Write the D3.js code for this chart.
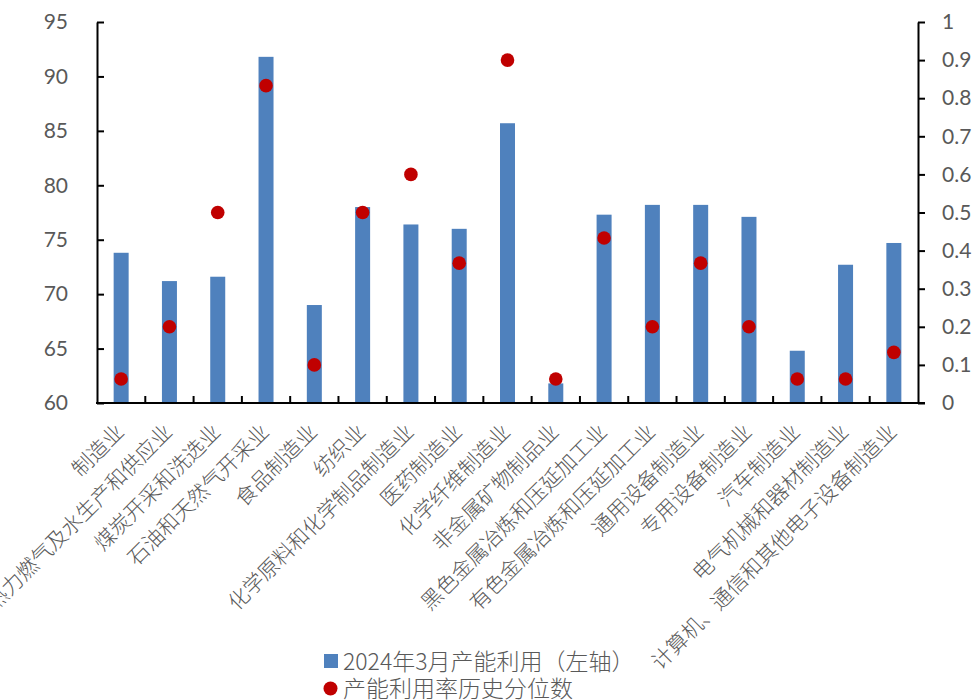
<!DOCTYPE html>
<html>
<head>
<meta charset="utf-8">
<script src="https://cdn.jsdelivr.net/npm/d3@7/dist/d3.min.js"></script>
<style>
  html, body { margin: 0; padding: 0; background: #fff; }
  svg { display: block; }
  .num { font-family: "Lato", "Liberation Sans", sans-serif; }
  .cjk { font-family: "Noto Sans CJK SC", "Lato", sans-serif; }
  .light { font-weight: 300; }
</style>
</head>
<body>
<svg id="chart" width="974" height="700"></svg>
<script>
// Industry categories
const categories = [
  "制造业",
  "电力热力燃气及水生产和供应业",
  "煤炭开采和洗选业",
  "石油和天然气开采业",
  "食品制造业",
  "纺织业",
  "化学原料和化学制品制造业",
  "医药制造业",
  "化学纤维制造业",
  "非金属矿物制品业",
  "黑色金属冶炼和压延加工业",
  "有色金属冶炼和压延加工业",
  "通用设备制造业",
  "专用设备制造业",
  "汽车制造业",
  "电气机械和器材制造业",
  "计算机、通信和其他电子设备制造业"
];

// Capacity utilisation, March 2024 (%), left axis
const utilization = [73.8, 71.2, 71.6, 91.8, 69.0, 78.0, 76.4, 76.0, 85.7, 61.8,
                     77.3, 78.2, 78.2, 77.1, 64.8, 72.7, 74.7];

// Historical percentile of the utilisation rate, right axis
const percentile = [0.063, 0.2, 0.5, 0.833, 0.1, 0.5, 0.6, 0.367, 0.9, 0.063,
                    0.433, 0.2, 0.367, 0.2, 0.063, 0.063, 0.133];

const leftTicks = [60, 65, 70, 75, 80, 85, 90, 95];
const rightTicks = [0, 0.1, 0.2, 0.3, 0.4, 0.5, 0.6, 0.7, 0.8, 0.9, 1];

const legendLabels = ["2024年3月产能利用（左轴）", "产能利用率历史分位数"];

const BAR = "#4f81bd", DOT = "#c00000", TXT = "#595959";

const svg = d3.select("#chart");
const plotL = 97, plotR = 918, plotT = 22, plotB = 403;

const x = d3.scaleBand().domain(categories).range([plotL, plotR]).padding(0);
const yL = d3.scaleLinear().domain([60, 95]).range([plotB, plotT]);
const yR = d3.scaleLinear().domain([0, 1]).range([plotB, plotT]);

// Bars
svg.append("g").selectAll("rect").data(categories).join("rect")
  .attr("x", (d) => x(d) + x.bandwidth() / 2 - 7.5)
  .attr("width", 15)
  .attr("y", (d, i) => yL(utilization[i]))
  .attr("height", (d, i) => yL(60) - yL(utilization[i]))
  .attr("fill", BAR);

// Percentile markers
svg.append("g").selectAll("circle").data(categories).join("circle")
  .attr("cx", (d) => x(d) + x.bandwidth() / 2)
  .attr("cy", (d, i) => yR(percentile[i]))
  .attr("r", 6.8)
  .attr("fill", DOT);

// Left axis (ticks point inward)
const gL = svg.append("g").attr("transform", `translate(${plotL},0)`)
  .call(d3.axisLeft(yL).tickValues(leftTicks).tickSizeInner(-7).tickSizeOuter(0).tickPadding(29));
gL.select(".domain").attr("stroke", "#000").attr("stroke-width", 2);
gL.selectAll(".tick line").attr("stroke", "#000").attr("stroke-width", 2);
gL.selectAll(".tick text").attr("class", "num").attr("fill", TXT).attr("font-size", 21);

// Right axis
const fmtR = (d) => (d === 0 ? "0" : d === 1 ? "1" : d.toFixed(1));
const gR = svg.append("g").attr("transform", `translate(${plotR},0)`)
  .call(d3.axisRight(yR).tickValues(rightTicks).tickFormat(fmtR).tickSizeInner(7).tickSizeOuter(0).tickPadding(17));
gR.select(".domain").attr("stroke", "#000").attr("stroke-width", 2);
gR.selectAll(".tick line").attr("stroke", "#000").attr("stroke-width", 2);
gR.selectAll(".tick text").attr("class", "num").attr("fill", TXT).attr("font-size", 21);

// Category axis: boundary ticks pointing up, rotated labels
const gB = svg.append("g").attr("transform", `translate(0,${plotB})`)
  .call(d3.axisBottom(x).tickSize(0).tickPadding(0));
gB.select(".domain").remove();
gB.append("line").attr("x1", plotL - 1).attr("x2", plotR + 7).attr("stroke", "#000").attr("stroke-width", 2);
gB.selectAll(".sep").data(categories.slice(1)).join("line")
  .attr("class", "sep")
  .attr("x1", (d) => x(d)).attr("x2", (d) => x(d))
  .attr("y1", 0).attr("y2", -7)
  .attr("stroke", "#000").attr("stroke-width", 2);
gB.selectAll(".tick text")
  .attr("class", "cjk light")
  .attr("fill", TXT)
  .attr("font-size", 21)
  .attr("text-anchor", "end")
  .attr("dy", "0.35em")
  .attr("y", 0)
  .attr("transform", "translate(-1,25) rotate(-45)");

// Legend
const lg = svg.append("g").attr("class", "cjk light").attr("font-size", 23).attr("fill", TXT);
lg.append("rect").attr("x", 324).attr("y", 654).attr("width", 14).attr("height", 14).attr("fill", BAR);
lg.append("text").attr("x", 343).attr("y", 670).text(legendLabels[0]);
lg.append("circle").attr("cx", 330.5).attr("cy", 688.5).attr("r", 7).attr("fill", DOT);
lg.append("text").attr("x", 343).attr("y", 697).text(legendLabels[1]);
</script>
</body>
</html>
